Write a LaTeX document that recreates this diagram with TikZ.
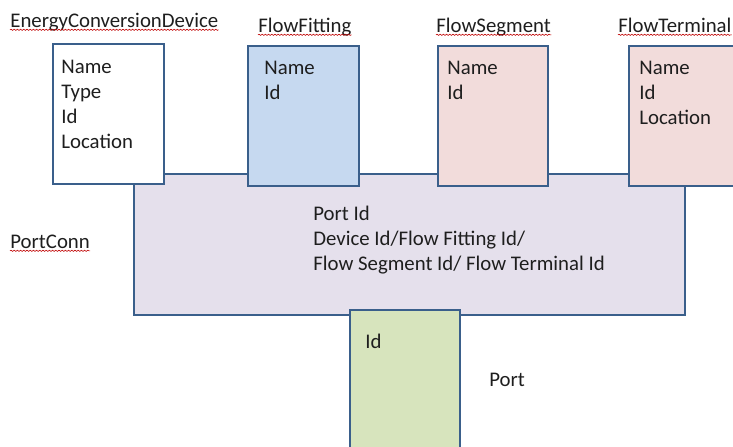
\documentclass[tikz,border=0pt]{standalone}
\usepackage{fontspec}
\setmainfont{Carlito}
\usepackage{tikz}
\usetikzlibrary{decorations.pathmorphing}

\definecolor{edgeblue}{HTML}{3A5F8B}
\definecolor{ink}{HTML}{1E1E1E}
\definecolor{fitblue}{HTML}{C6D9F0}
\definecolor{segpink}{HTML}{F2DCDB}
\definecolor{connlilac}{HTML}{E5E0EC}
\definecolor{portgreen}{HTML}{D7E4BD}

\begin{document}
\begin{tikzpicture}[x=0.5pt, y=-0.5pt,
  box/.style={draw=edgeblue, line width=1.1pt, anchor=north west, inner sep=0pt},
  fields/.style={anchor=base west, align=left, inner sep=0pt, text=ink,
    font=\fontsize{10.4}{12.4}\selectfont},
  title/.style={anchor=base west, inner sep=0pt, text=ink, font=\fontsize{10.4}{12}\selectfont},
  spell/.style={red!75!black, line width=0.3pt, decorate,
    decoration={snake, amplitude=0.3pt, segment length=1.6pt}}]
  % page frame, same size as the reference
  \clip (0,0) rectangle (733,446);

  % Connection table behind the entity boxes
  \node[box, fill=connlilac, minimum width=275.5pt, minimum height=70.5pt] (conn) at (133,173) {};
  % (base anchor = last line of the block)
  \node[fields, font=\fontsize{10.4}{12.3}\selectfont] (connF) at (313,270)
    {Port Id\\Device Id/Flow Fitting Id/\\Flow Segment Id/ Flow Terminal Id};

  % Entity boxes along the top
  \node[box, fill=white, minimum width=55.5pt, minimum height=70pt] (ecd) at (52,43) {};
  \node[box, fill=fitblue, minimum width=55.5pt, minimum height=70pt] (fit) at (247,45) {};
  \node[box, fill=segpink, minimum width=55pt, minimum height=70pt] (seg) at (437,45) {};
  \node[box, fill=segpink, minimum width=60pt, minimum height=70pt] (term) at (628,45) {};

  \node[fields, font=\fontsize{10.4}{12.5}\selectfont] (ecdF) at (61,148) {Name\\Type\\Id\\Location};
  \node[fields] (fitF) at (264,99) {Name\\Id};
  \node[fields] (segF) at (447,99) {Name\\Id};
  \node[fields] (termF) at (639,124) {Name\\Id\\Location};

  % Port box below, over the bottom edge of the table
  \node[box, fill=portgreen, minimum width=55pt, minimum height=75pt] (port) at (349,309) {};
  \node[fields] (portF) at (365,348) {Id};

  % Names of the tables
  \node[title] (ecdT) at (10,27) {EnergyConversionDevice};
  \node[title] (fitT) at (258,32) {FlowFitting};
  \node[title] (segT) at (436,32) {FlowSegment};
  \node[title] (termT) at (618,32) {FlowTerminal};
  \node[title] (connT) at (10,248) {PortConn};
  \node[title] (portT) at (489,386) {Port};

  % spell-check marks under the names
  \foreach \t in {ecdT, fitT, segT, termT, connT}
    \draw[spell] ([yshift=-1.4pt]\t.base west) -- ([yshift=-1.4pt]\t.base east);
\end{tikzpicture}
\end{document}
